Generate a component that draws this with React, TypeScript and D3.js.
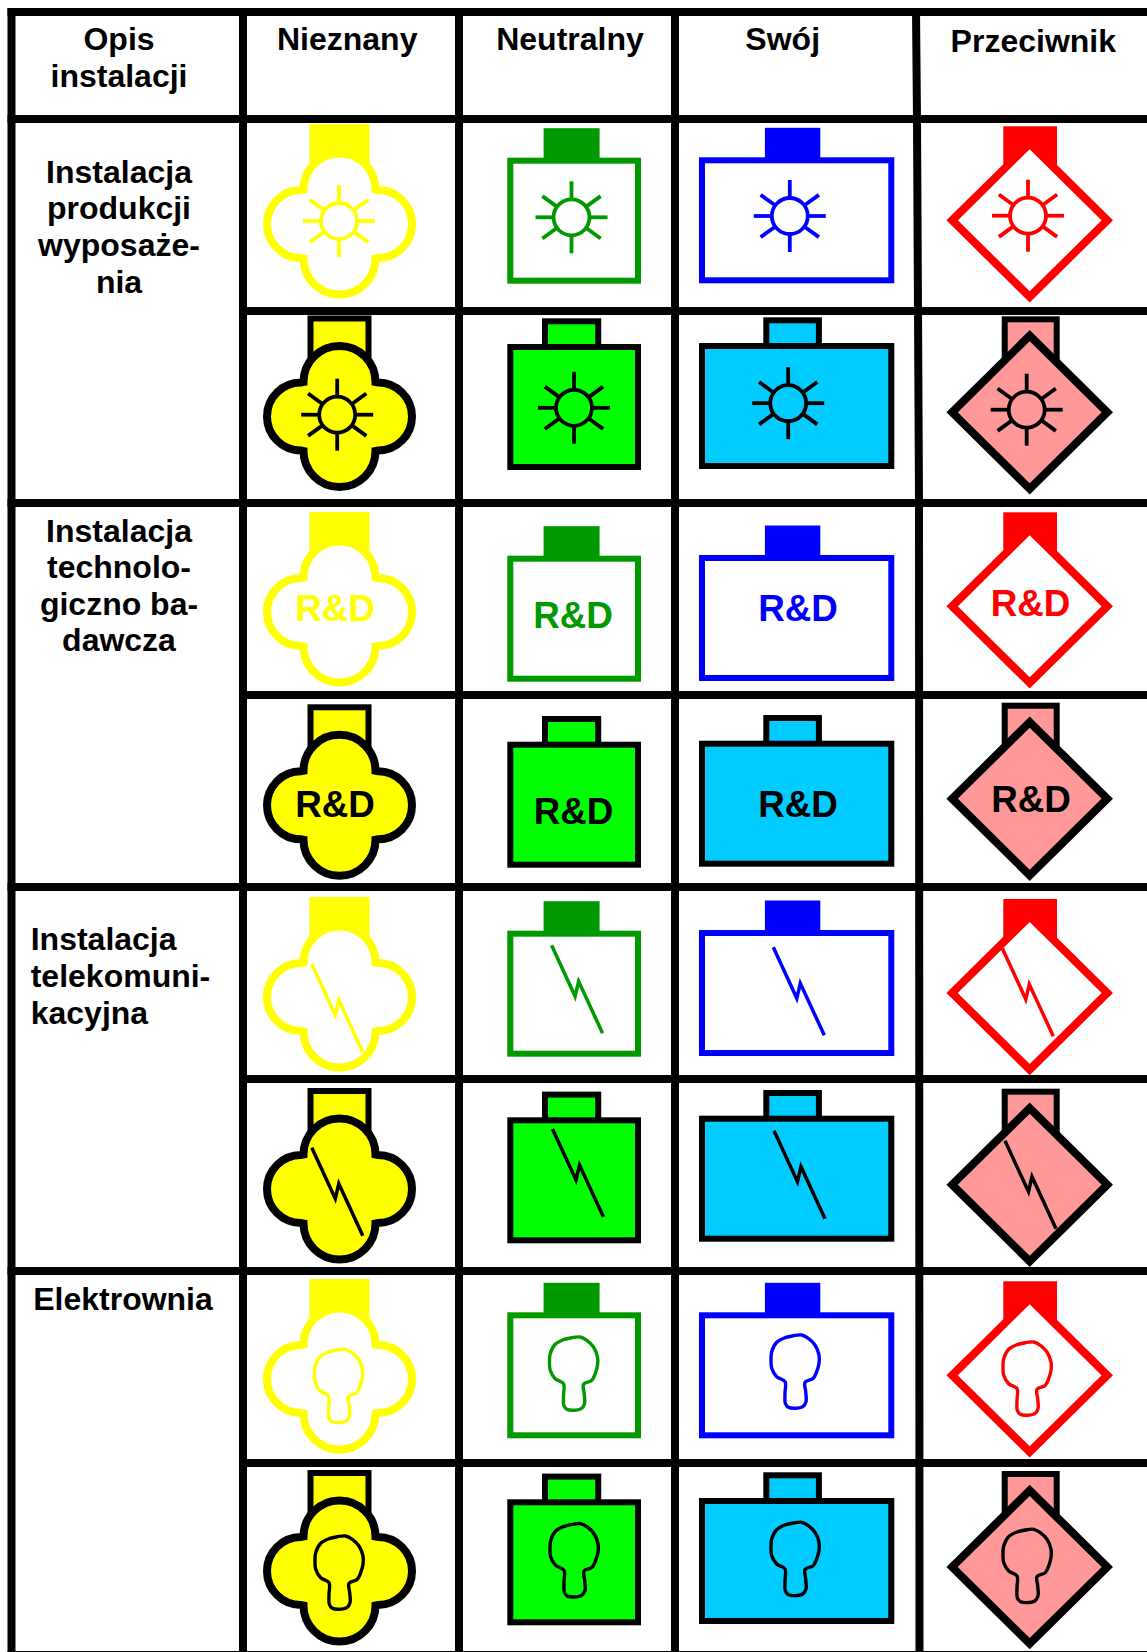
import React from "react";
import * as d3 from "d3";

const W = 1147;
const H = 1652;

// table content
const columnTitles = ["Nieznany", "Neutralny", "Swój", "Przeciwnik"];
const installTitles = [
  ["Instalacja", "produkcji", "wyposaże-", "nia"],
  ["Instalacja", "technolo-", "giczno ba-", "dawcza"],
  ["Instalacja", "telekomuni-", "kacyjna"],
  ["Elektrownia"],
];
const glyphKinds = ["sun", "rd", "bolt", "key"];
const plainColors = ["#ffff00", "#009900", "#0000ff", "#ff0000"];
const solidColors = ["#ffff00", "#00ff00", "#00ccff", "#ff9999"];

// grid: eight symbol rows of equal height, first gridline under the header
const rowScale = d3.scaleLinear().domain([0, 8]).range([119, 1655]);
const colScale = d3.scaleLinear().domain([0, 2]).range([243, 675]);

// where each symbol sits, one list per column, one entry per row
const shapeY = [
  [224, 416.5, 612, 805.3, 997, 1189, 1379, 1571],
  [157.7, 344, 555.7, 741.7, 930.7, 1117.3, 1312.3, 1499.3],
  [157.3, 343, 555, 740.7, 930, 1115.7, 1312.3, 1498],
  [220.3, 412.3, 606.3, 798.7, 993, 1184.7, 1375.3, 1567],
];
const sunAt = [
  [[339, 221], [337.2, 414.7]],
  [[571.5, 217.3], [574, 407.8]],
  [[789.8, 216], [788.2, 403.2]],
  [[1028, 215.7], [1026.7, 409.7]],
];
const rdAt = [
  [[335, 620.7], [335, 816.7]],
  [[573, 627.7], [573.5, 824.3]],
  [[798, 620.7], [798, 816.7]],
  [[1030.5, 615.7], [1031, 811.7]],
];
const boltAt = [
  [[311.8, 964], [311.8, 1147.7]],
  [[551.6, 945.3], [552.5, 1129]],
  [[773.3, 947.3], [774, 1130.7]],
  [[1002.3, 948.3], [1005, 1140.7]],
];
const keyAt = [
  [[314.5, 1349.3], [315, 1536]],
  [[549.5, 1337], [550, 1523.7]],
  [[771, 1335], [771, 1522.3]],
  [[1003, 1342], [1003, 1529.3]],
];
const glyphAt: Record<string, number[][][]> = { sun: sunAt, rd: rdAt, bolt: boltAt, key: keyAt };

const boltShape: [number, number][] = [[0, 0], [23.5, 51], [27, 36], [51, 88]];
const keyShape: [number, number][] = [
  [30.7, 0], [37.3, 3.3], [44, 10], [48, 20], [48, 28.3], [45.7, 36.7], [42.3, 43.3], [34, 47.3],
  [34.7, 56.7], [35, 66.7], [31.7, 71.7], [24, 73.3], [17.3, 72.3], [14.3, 68.3], [14, 58.3], [14, 46.7],
  [5.7, 41.7], [0.7, 33.3], [0, 25], [0.7, 16.7], [5.7, 7.3], [14, 2.7], [22.3, 0.7],
];

const boltLine = d3.line();
const keyLine = d3.line().curve(d3.curveCatmullRomClosed);

function quatrefoilPath() {
  const p = d3.path();
  p.moveTo(-36, -34.5);
  p.arc(0, -34.5, 36, Math.PI, 0);
  p.lineTo(38.5, -34);
  p.arc(38.5, 0, 34, -Math.PI / 2, Math.PI / 2);
  p.lineTo(36, 34.5);
  p.arc(0, 34.5, 36, 0, Math.PI);
  p.lineTo(-38.5, 34);
  p.arc(-38.5, 0, 34, Math.PI / 2, (3 * Math.PI) / 2);
  p.closePath();
  return p.toString();
}

const Quatrefoil = ({ y, color, solid }: any) => (
  <g transform={`translate(339.5,${y})`}>
    {solid ? (
      <rect x={-29} y={-98} width={58} height={50} fill={color} stroke="#000" strokeWidth={6} />
    ) : (
      <rect x={-30} y={-100} width={60} height={52} fill={color} />
    )}
    <path d={quatrefoilPath()} fill={solid ? color : "#fff"} stroke={solid ? "#000" : color} strokeWidth={8} strokeLinejoin="miter" />
  </g>
);

const Box = ({ x0, x1, stemX, stemHalf, y, color, solid }: any) => {
  const h = 120;
  return (
    <g>
      {solid ? (
        <rect x={stemX - stemHalf} y={y - 22.7} width={stemHalf * 2} height={30} fill={color} stroke="#000" strokeWidth={6} />
      ) : (
        <rect x={stemX - stemHalf - 1.4} y={y - 29.5} width={stemHalf * 2 + 2.8} height={34} fill={color} />
      )}
      <rect x={x0} y={y + 3} width={x1 - x0} height={h} fill={solid ? color : "#fff"} stroke={solid ? "#000" : color} strokeWidth={6} />
    </g>
  );
};

const Diamond = ({ y, color, solid }: any) => {
  const hx = 77.6;
  const hy = 76.6;
  const d = `M0,${-hy}L${hx},0L0,${hy}L${-hx},0Z`;
  return (
    <g transform={`translate(1029.7,${y})`}>
      {solid ? (
        <rect x={-25} y={-93} width={52} height={43} fill={color} stroke="#000" strokeWidth={6} />
      ) : (
        <rect x={-26.4} y={-94} width={53.7} height={44} fill={color} />
      )}
      <path d={d} fill={solid ? color : "#fff"} stroke={solid ? "#000" : color} strokeWidth={8} strokeLinejoin="miter" />
    </g>
  );
};

const Sun = ({ x, y, color }: any) => {
  const rayAngle = 36 * (Math.PI / 180);
  const dirs = [
    [0, -1], [0, 1], [-1, 0], [1, 0],
    [Math.cos(rayAngle), Math.sin(rayAngle)], [-Math.cos(rayAngle), Math.sin(rayAngle)],
    [Math.cos(rayAngle), -Math.sin(rayAngle)], [-Math.cos(rayAngle), -Math.sin(rayAngle)],
  ];
  return (
    <g transform={`translate(${x},${y})`} stroke={color} fill="none" strokeWidth={3.8}>
      <circle r={18} />
      {dirs.map((d, i) => (
        <line key={i} x1={d[0] * 19} y1={d[1] * 19} x2={d[0] * 36} y2={d[1] * 36} />
      ))}
    </g>
  );
};

const Glyph = ({ kind, at, color }: any) => {
  if (kind === "sun") return <Sun x={at[0]} y={at[1]} color={color} />;
  if (kind === "rd")
    return (
      <text x={at[0]} y={at[1]} textAnchor="middle" fontSize={36.8} fontWeight="bold" fill={color}>
        R&amp;D
      </text>
    );
  if (kind === "bolt")
    return <path transform={`translate(${at[0]},${at[1]})`} d={boltLine(boltShape) as string} fill="none" stroke={color} strokeWidth={3.5} />;
  return <path transform={`translate(${at[0]},${at[1]})`} d={keyLine(keyShape) as string} fill="none" stroke={color} strokeWidth={3.4} />;
};

const Symbol = ({ col, row }: any) => {
  const solid = row % 2 === 1;
  const color = solid ? solidColors[col] : plainColors[col];
  const y = shapeY[col][row];
  const kind = glyphKinds[Math.floor(row / 2)];
  const at = glyphAt[kind][col][row % 2];
  return (
    <g>
      {col === 0 && <Quatrefoil y={y} color={color} solid={solid} />}
      {col === 1 && <Box x0={510.3} x1={638} stemX={571.6} stemHalf={26.6} y={y} color={color} solid={solid} />}
      {col === 2 && <Box x0={702} x1={891.3} stemX={792.6} stemHalf={26.3} y={y} color={color} solid={solid} />}
      {col === 3 && <Diamond y={y} color={color} solid={solid} />}
      <Glyph kind={kind} at={at} color={solid ? "#000" : color} />
    </g>
  );
};

const headerAt = [
  [347.2, 50],
  [570, 49.5],
  [782.7, 50],
  [1033.3, 51.7],
];
const labelBase = [
  [182.7, 219.3, 256, 293.2],
  [541.7, 577.5, 614.5, 651],
  [950, 987, 1024],
  [1310],
];

export default function App() {
  const rowLines = d3.range(0, 9);
  const colLines = d3.range(0, 3);
  const gridColor = "#000";
  return (
    <svg width={W} height={H} viewBox={`0 0 ${W} ${H}`} style={{ position: "absolute", left: 0, top: 0, display: "block", background: "#fff" }} fontFamily="'Liberation Sans', Arial, sans-serif">
      {/* symbols first so the grid stays on top */}
      {d3.range(4).map((c) => d3.range(8).map((r) => <Symbol key={`${c}-${r}`} col={c} row={r} />))}

      <line x1={7.5} x2={W} y1={12} y2={12} stroke={gridColor} strokeWidth={8} />
      <line x1={11.5} x2={11.5} y1={8} y2={H} stroke={gridColor} strokeWidth={8} />
      {colLines.map((c) => (
        <line key={c} x1={colScale(c)} x2={colScale(c)} y1={8} y2={H} stroke={gridColor} strokeWidth={8} />
      ))}
      <path d={d3.line()([[916, 8], [917, 120], [919, 500], [919.5, H]]) as string} fill="none" stroke={gridColor} strokeWidth={8} />
      {rowLines.map((r) => (
        <line key={r} x1={r % 2 === 0 ? 7.5 : colScale(0)} x2={W} y1={rowScale(r)} y2={rowScale(r)} stroke={gridColor} strokeWidth={8} />
      ))}

      <g fontSize={32} fontWeight="bold" fill="#000">
        <text x={119} y={49.8} textAnchor="middle">Opis</text>
        <text x={119} y={86.7} textAnchor="middle">instalacji</text>
        {columnTitles.map((t, i) => (
          <text key={t} x={headerAt[i][0]} y={headerAt[i][1]} textAnchor="middle">{t}</text>
        ))}
        {installTitles.map((lines, g) =>
          lines.map((t, i) => (
            <text
              key={t + g}
              x={g === 2 ? 30.7 : g === 3 ? 123 : 119}
              y={labelBase[g][i]}
              textAnchor={g === 2 ? "start" : "middle"}
            >
              {t}
            </text>
          )),
        )}
      </g>
    </svg>
  );
}
